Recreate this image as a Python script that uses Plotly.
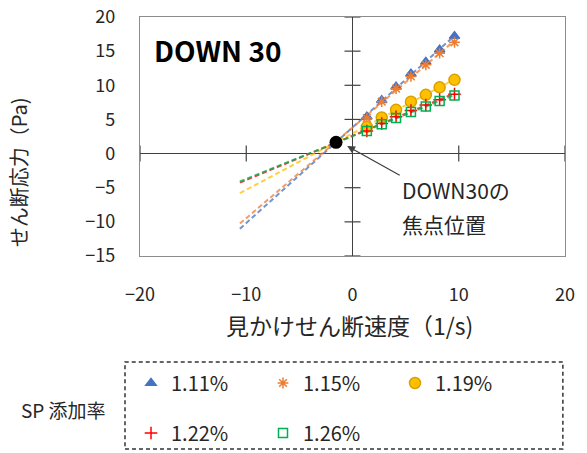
import numpy as np
import plotly.graph_objects as go

# Apparent shear rate (1/s) and shear stress (Pa) for each SP dosage
shear_rate = [1.35, 2.75, 4.1, 5.5, 6.9, 8.2, 9.6]
stress_111 = [5.4, 7.8, 9.8, 11.7, 13.4, 15.2, 17.2]
stress_115 = [5.2, 7.6, 9.5, 11.3, 13.0, 14.7, 16.3]
stress_119 = [3.9, 5.3, 6.4, 7.6, 8.6, 9.7, 10.8]
stress_122 = [3.3, 4.4, 5.4, 6.3, 7.1, 7.9, 8.7]
stress_126 = [3.3, 4.3, 5.2, 6.1, 6.9, 7.7, 8.5]

series_names = ["1.11%", "1.15%", "1.19%", "1.22%", "1.26%"]
series_values = [stress_111, stress_115, stress_119, stress_122, stress_126]

# Focal point of the extrapolated trend lines
focal_x = [-1.55]
focal_y = [1.65]

# Trend lines are extrapolated back to this shear rate
trend_x_min = -10.6

x_ticks = [-20, -10, 0, 10, 20]
y_ticks = [-15, -10, -5, 0, 5, 10, 15, 20]

colors = ["#4472C4", "#ED7D31", "#FFC000", "#FF0000", "#00B050"]
symbols = ["triangle-up", "asterisk-open", "circle", "cross-thin-open", "square-open"]
sizes = [9, 9, 11, 9, 9]
line_colors = ["#4472C4", "#ED7D31", "#D9A000", "#FF0000", "#00B050"]

FONT = "Noto Sans CJK JP"
TXT = "#262626"

fig = go.Figure()

# Dashed linear trend lines
for name, vals, col in zip(series_names, series_values, colors):
    slope, icpt = np.polyfit(shear_rate, vals, 1)
    xs = np.array([trend_x_min, shear_rate[-1]])
    fig.add_trace(go.Scatter(
        x=xs, y=slope * xs + icpt, mode="lines",
        line=dict(color=col, width=2, dash="5px,3px"),
        opacity=0.75, showlegend=False, hoverinfo="skip"))

# Measured points
for i, (name, vals) in enumerate(zip(series_names, series_values)):
    fig.add_trace(go.Scatter(
        x=shear_rate, y=vals, mode="markers", name=name,
        legend="legend" if i < 3 else "legend2",
        marker=dict(symbol=symbols[i], size=sizes[i], color=colors[i],
                    line=dict(color=line_colors[i], width=1.5))))

# Focal point marker
fig.add_trace(go.Scatter(
    x=focal_x, y=focal_y, mode="markers", showlegend=False,
    marker=dict(size=13, color="black")))

# Cross ticks on the zero axes
shapes = []
for v in x_ticks:
    if v != 0:
        shapes.append(dict(type="line", xref="x", yref="y", x0=v, x1=v,
                           ysizemode="pixel", yanchor=0, y0=-8, y1=8,
                           line=dict(color="#404040", width=1.2)))
for v in y_ticks:
    if v != 0:
        shapes.append(dict(type="line", xref="x", yref="y", y0=v, y1=v,
                           xsizemode="pixel", xanchor=0, x0=-8, x1=8,
                           line=dict(color="#404040", width=1.2)))

# Dashed frame around the legend
shapes.append(dict(type="rect", xref="paper", yref="paper",
                   x0=-0.0353, x1=0.995, y0=-0.8075, y1=-0.4435,
                   line=dict(color="#333333", width=1.5, dash="4px,3px")))

note_x = (400 - 140) / 425
note_split = (256 - 207) / 239

annotations = [
    dict(text="<b>DOWN 30</b>", xref="paper", yref="paper", x=0.028, y=0.862,
         xanchor="left", yanchor="middle", showarrow=False,
         font=dict(family=FONT, size=28, color="black")),
    # pointer to the focal point
    dict(text="", xref="x", yref="y", x=-0.5, y=1.1,
         ax=54, ay=30, showarrow=True,
         arrowhead=2, arrowsize=1.2, arrowwidth=1.3, arrowcolor="#404040"),
    dict(text="DOWN30の", xref="paper", yref="paper", x=note_x, y=note_split,
         xanchor="left", yanchor="bottom", showarrow=False,
         font=dict(family=FONT, size=21, color=TXT)),
    dict(text="焦点位置", xref="paper", yref="paper", x=note_x, y=note_split,
         xanchor="left", yanchor="top", showarrow=False,
         font=dict(family=FONT, size=21, color=TXT)),
    dict(text="せん断応力（Pa)", xref="paper", yref="paper", x=-0.287, y=0.351,
         textangle=-90, showarrow=False, xanchor="center", yanchor="middle",
         font=dict(family=FONT, size=20, color=TXT)),
    dict(text="見かけせん断速度（1/s)", xref="paper", yref="paper", x=0.494, y=-0.289,
         showarrow=False, xanchor="center", yanchor="middle",
         font=dict(family=FONT, size=23, color=TXT)),
    dict(text="SP 添加率", xref="paper", yref="paper", x=-0.179, y=-0.644,
         showarrow=False, xanchor="center", yanchor="middle",
         font=dict(family=FONT, size=19, color=TXT)),
]

legend_common = dict(orientation="h", xanchor="left", yanchor="middle",
                     xref="container", yref="container",
                     entrywidth=87, entrywidthmode="pixels",
                     bgcolor="rgba(0,0,0,0)", itemsizing="trace",
                     font=dict(family=FONT, size=20, color=TXT))

fig.update_layout(
    width=587, height=453,
    margin=dict(l=140, r=22, t=17, b=197, autoexpand=False),
    paper_bgcolor="white", plot_bgcolor="white",
    showlegend=True,
    legend=dict(x=131 / 587, y=1 - 383 / 453, **legend_common),
    legend2=dict(x=131 / 587, y=1 - 433 / 453, **legend_common),
    shapes=shapes, annotations=annotations,
    xaxis=dict(range=[-20, 20], tickvals=x_ticks, showgrid=False, automargin=False,
               zeroline=True, zerolinecolor="#404040", zerolinewidth=1.2,
               showline=True, mirror=True, linecolor="#8c8c8c", linewidth=1.2,
               ticks="", ticklabelstandoff=22,
               tickfont=dict(family=FONT, size=18, color=TXT)),
    yaxis=dict(range=[-15, 20], tickvals=y_ticks, showgrid=False, automargin=False,
               zeroline=True, zerolinecolor="#404040", zerolinewidth=1.2,
               showline=True, mirror=True, linecolor="#8c8c8c", linewidth=1.2,
               ticks="", ticklabelstandoff=20,
               tickfont=dict(family=FONT, size=18, color=TXT)),
)

fig.write_html("out.html")
